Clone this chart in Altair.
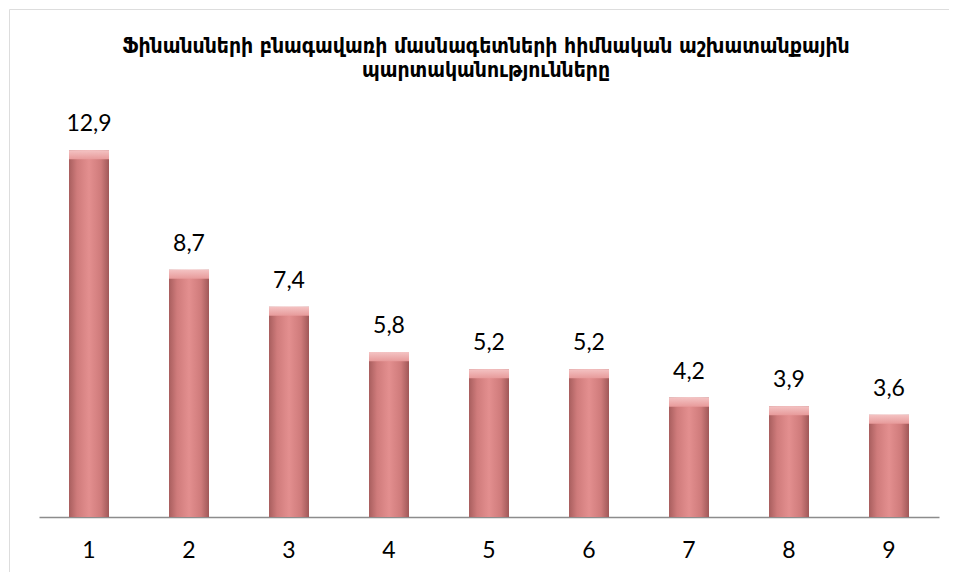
import altair as alt
import pandas as pd

categories = ["1", "2", "3", "4", "5", "6", "7", "8", "9"]
values = [12.9, 8.7, 7.4, 5.8, 5.2, 5.2, 4.2, 3.9, 3.6]
labels = [f"{v:.1f}".replace(".", ",") for v in values]
title_lines = [
    "Ֆինանսների բնագավառի մասնագետների հիմնական աշխատանքային",
    "պարտականությունները",
]

df = pd.DataFrame({"cat": categories, "value": values, "label": labels})
df["cap"] = df["value"] - 0.32

xscale = alt.Scale(range=[30, 930], paddingInner=0.6, paddingOuter=0.3)
yscale = alt.Scale(domain=[0, 14], range=[508, 110])

x_enc = alt.X("cat:N", scale=xscale, sort=categories,
              axis=alt.Axis(title=None, labelAngle=0, ticks=False, offset=-55,
                            domainColor="#8c8c8c", domainWidth=1.5,
                            labelFont="Lato", labelFontSize=23, labelColor="#000000",
                            labelPadding=22))

body_grad = alt.Gradient(
    gradient="linear", x1=0, x2=1, y1=0, y2=0,
    stops=[
        alt.GradientStop(color="#a85e5e", offset=0),
        alt.GradientStop(color="#cf7b7b", offset=0.2),
        alt.GradientStop(color="#e38f8f", offset=0.5),
        alt.GradientStop(color="#cf7b7b", offset=0.8),
        alt.GradientStop(color="#a05858", offset=1),
    ],
)
cap_grad = alt.Gradient(
    gradient="linear", x1=0, x2=0, y1=0, y2=1,
    stops=[
        alt.GradientStop(color="#f4c3c3", offset=0),
        alt.GradientStop(color="#e79a9a", offset=1),
    ],
)

bars = alt.Chart(df).mark_bar(fill=body_grad).encode(
    x=x_enc,
    y=alt.Y("value:Q", scale=yscale, axis=None),
)
caps = alt.Chart(df).mark_bar(fill=cap_grad).encode(
    x=alt.X("cat:N", sort=categories),
    y=alt.Y("value:Q"),
    y2="cap:Q",
)
text = alt.Chart(df).mark_text(dy=-19, baseline="alphabetic", font="Lato", fontSize=23,
                               color="#000000").encode(
    x=alt.X("cat:N", sort=categories),
    y=alt.Y("value:Q"),
    text="label:N",
)

chart = (
    alt.layer(bars, caps, text)
    .properties(
        width=940,
        height=563,
        autosize=alt.AutoSizeParams(type="none"),
        padding={"left": 1, "top": 1, "right": 0, "bottom": 0},
        title=alt.TitleParams(
            title_lines,
            anchor="middle",
            offset=-72,
            dx=7,
            font="DejaVu Sans Condensed",
            fontSize=21,
            fontWeight="bold",
            color="#000000",
            lineHeight=24,
        ),
    )
    .configure_view(stroke="#8c8c8c", strokeWidth=1.5)
    .configure(background="#ffffff")
)

chart.save("out.html", embed_options={"renderer": "svg", "actions": False})
